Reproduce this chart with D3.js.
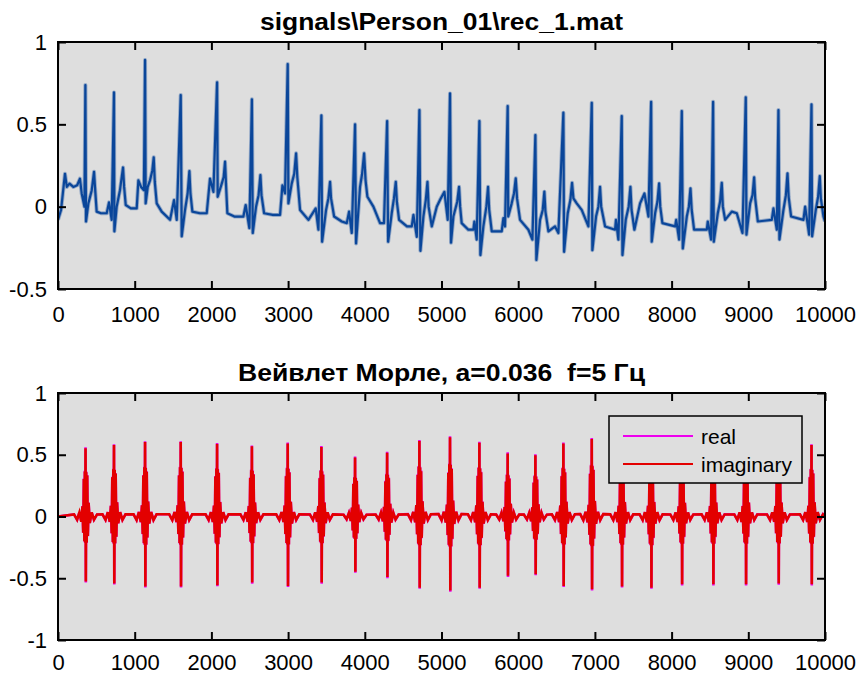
<!DOCTYPE html>
<html>
<head>
<meta charset="utf-8">
<script src="https://cdn.jsdelivr.net/npm/d3@7"></script>
<style>
  body { margin: 0; background: #fff; }
  svg { display: block; font-family: "Liberation Sans", Arial, sans-serif; }
</style>
</head>
<body>
<svg id="chart" width="859" height="675"></svg>
<script>
// ECG signal, vertices: [sample, value]
const ecgPoints = [
  [0,-0.08],[40,-0.02],[91,0.20],[115,0.12],[150,0.14],[200,0.12],[250,0.13],[286,0.17],[309,0.08],[345,0.0],
  [357,0.739],[365,-0.09],[396,0.02],[440,0.10],[470,0.212],[482,0.12],[504,-0.03],[560,-0.04],[635,-0.04],[665,0.026],[700,-0.08],
  [730,0.694],[735,-0.15],[765,0.0],[808,0.10],[848,0.238],[862,0.12],[883,0.01],[950,-0.01],[1026,-0.01],[1048,0.16],[1083,0.12],[1120,0.10],
  [1135,0.891],[1143,0.02],[1170,0.12],[1200,0.16],[1230,0.22],[1248,0.30],[1262,0.15],[1287,0.02],[1352,-0.03],[1461,-0.08],[1513,0.04],[1548,-0.08],
  [1600,0.678],[1613,-0.18],[1656,-0.02],[1690,0.08],[1713,0.216],[1727,0.08],[1752,-0.03],[1850,-0.04],[1939,-0.04],[1982,0.17],[2026,0.09],
  [2074,0.755],[2082,0.06],[2135,0.14],[2160,0.18],[2178,0.273],[2192,0.12],[2208,-0.04],[2300,-0.06],[2417,-0.06],[2447,0.01],[2495,-0.13],
  [2528,0.652],[2539,-0.16],[2582,0.0],[2615,0.07],[2639,0.192],[2653,0.07],[2687,-0.04],[2800,-0.05],[2895,-0.05],[2926,0.13],[2960,0.08],
  [2995,0.866],[3004,0.02],[3047,0.14],[3080,0.20],[3104,0.324],[3120,0.18],[3156,-0.02],[3265,-0.08],[3360,-0.01],[3395,-0.14],
  [3434,0.554],[3443,-0.213],[3495,-0.02],[3525,0.05],[3547,0.151],[3560,0.05],[3600,-0.06],[3700,-0.09],[3765,-0.10],[3795,-0.03],[3830,-0.16],
  [3873,0.50],[3886,-0.223],[3938,0.12],[3965,0.20],[3991,0.324],[4010,0.16],[4034,0.06],[4112,0.0],[4199,-0.10],[4250,-0.10],
  [4291,0.52],[4304,-0.213],[4351,-0.04],[4380,0.05],[4404,0.151],[4418,0.03],[4447,-0.08],[4550,-0.12],[4612,-0.12],[4634,-0.05],[4678,-0.183],
  [4712,0.587],[4725,-0.268],[4764,-0.06],[4795,0.04],[4817,0.151],[4832,0.0],[4873,-0.12],[4938,0.0],[4990,0.05],[5038,0.09],[5081,-0.08],
  [5111,0.688],[5124,-0.219],[5155,-0.06],[5205,0.03],[5229,0.121],[5243,0.0],[5263,-0.10],[5350,-0.14],[5416,-0.14],[5429,-0.09],[5459,-0.20],
  [5494,0.52],[5507,-0.294],[5546,-0.12],[5585,0.0],[5607,0.121],[5622,-0.02],[5655,-0.15],[5785,-0.15],[5807,-0.07],[5828,-0.12],
  [5863,0.611],[5870,-0.06],[5915,0.02],[5945,0.08],[5968,0.172],[5985,0.05],[6024,-0.08],[6133,-0.14],[6185,-0.20],
  [6224,0.435],[6237,-0.324],[6285,-0.08],[6320,-0.02],[6341,0.091],[6355,-0.03],[6394,-0.15],[6480,-0.12],[6524,-0.16],
  [6589,0.571],[6598,-0.274],[6646,-0.04],[6680,0.04],[6702,0.145],[6720,0.05],[6763,0.02],[6828,-0.02],[6915,-0.12],
  [6959,0.631],[6967,-0.264],[7015,-0.06],[7045,0.0],[7067,0.121],[7082,0.0],[7133,-0.12],[7263,-0.14],[7275,-0.08],[7306,-0.20],
  [7350,0.55],[7359,-0.294],[7402,-0.08],[7440,0.0],[7463,0.121],[7478,-0.02],[7515,-0.14],[7589,0.02],[7646,0.08],[7698,-0.06],
  [7733,0.637],[7741,-0.213],[7785,-0.04],[7815,0.03],[7837,0.141],[7852,0.0],[7880,-0.10],[8046,-0.12],[8060,-0.08],[8098,-0.20],
  [8133,0.581],[8146,-0.254],[8198,-0.06],[8225,0.0],[8246,0.111],[8262,-0.02],[8293,-0.14],[8459,-0.14],[8472,-0.09],[8515,-0.20],
  [8541,0.637],[8550,-0.213],[8602,-0.04],[8632,0.03],[8654,0.145],[8668,0.0],[8698,-0.08],[8785,-0.03],[8850,-0.04],[8924,-0.16],
  [8967,0.664],[8976,-0.17],[9024,0.02],[9055,0.07],[9076,0.178],[9090,0.05],[9124,-0.09],[9306,-0.08],[9328,-0.01],[9372,-0.14],
  [9393,0.587],[9406,-0.20],[9458,-0.02],[9490,0.07],[9511,0.202],[9526,0.06],[9558,-0.06],[9719,-0.08],[9741,0.0],[9793,-0.17],
  [9824,0.621],[9832,-0.18],[9880,-0.02],[9910,0.06],[9932,0.186],[9946,0.05],[9980,-0.06],[10000,-0.09]
];

// wavelet bursts: centre sample and extremes of each burst
const burstX   = [359, 730, 1135, 1600, 2074, 2528, 2995, 3434, 3873, 4291, 4712, 5111,
                  5494, 5863, 6224, 6589, 6959, 7350, 7733, 8133, 8541, 8967, 9393, 9824];
const imagTop  = [0.552, 0.579, 0.603, 0.603, 0.587, 0.568, 0.592, 0.562, 0.478, 0.516, 0.611, 0.641,
                  0.597, 0.51, 0.495, 0.592, 0.627, 0.58, 0.58, 0.55, 0.56, 0.56, 0.56, 0.579];
const imagBot  = [-0.527, -0.543, -0.567, -0.567, -0.556, -0.535, -0.562, -0.535, -0.448, -0.489, -0.576, -0.60,
                  -0.576, -0.48, -0.467, -0.562, -0.59, -0.567, -0.576, -0.548, -0.548, -0.548, -0.543, -0.548];
const realTop  = [0.56, 0.585, 0.61, 0.61, 0.595, 0.575, 0.6, 0.57, 0.485, 0.525, 0.62, 0.65,
                  0.605, 0.52, 0.505, 0.6, 0.635, 0.59, 0.59, 0.56, 0.57, 0.57, 0.57, 0.585];
const realBot  = [-0.535, -0.55, -0.575, -0.575, -0.565, -0.545, -0.57, -0.545, -0.455, -0.5, -0.585, -0.61,
                  -0.585, -0.49, -0.475, -0.57, -0.6, -0.575, -0.585, -0.558, -0.558, -0.558, -0.552, -0.558];
// shape of one burst read from a close-up: offset in samples, share of the extreme
const burstDx = [-150, -110, -80, -55, -40, -30, -22, -15, -9, -4, 0, 4, 9, 15, 22, 30, 40, 55, 80, 110, 150];
const burstF  = [0.03, -0.05, 0.06, -0.08, 0.15, -0.25, 0.55, -0.38, 0.66, -0.4, 1.0, -1.0, 0.65, -0.4, 0.6, -0.3, 0.2, -0.1, 0.06, -0.05, 0.03];

const xTicks = [0, 1000, 2000, 3000, 4000, 5000, 6000, 7000, 8000, 9000, 10000];
const yTicksTop = [-0.5, 0, 0.5, 1];
const yTicksBottom = [-1, -0.5, 0, 0.5, 1];
const titleTop = "signals\\Person_01\\rec_1.mat";
const titleBottom = "Вейвлет Морле, a=0.036  f=5 Гц";
const legendLabels = ["real", "imaginary"];
const legendColors = ["#ee00ee", "#e30000"];

const svg = d3.select('#chart');
const left = 58, right = 825;

function burstSeries(tops, bots) {
    let pts = [[0, 0]];
    burstX.forEach(function(c, i) {
        burstDx.forEach(function(dx, j) {
            let f = burstF[j];
            pts.push([c + dx, f > 0 ? f * tops[i] : f * Math.abs(bots[i])]);
        });
    });
    pts.push([10000, 0]);
    return pts;
}

function panel(y0, y1, yDomain, yTicks, title, titleLen, titleY, id, xPad) {
    let x = d3.scaleLinear().domain([0, 10000]).range([left, right]);
    let y = d3.scaleLinear().domain(yDomain).range([y1, y0]);
    let g = svg.append('g');

    g.append('rect')
        .attr('x', left).attr('y', y0)
        .attr('width', right - left).attr('height', y1 - y0)
        .attr('fill', '#dedede');

    svg.append('clipPath').attr('id', id)
        .append('rect')
        .attr('x', left).attr('y', y0)
        .attr('width', right - left).attr('height', y1 - y0);

    let plot = g.append('g').attr('clip-path', 'url(#' + id + ')');

    let fmt = function(d) { return String(d); };

    g.append('g').attr('transform', 'translate(0,' + y1 + ')')
        .call(d3.axisBottom(x).tickValues(xTicks).tickSize(-8).tickPadding(xPad).tickFormat(fmt));
    g.append('g').attr('transform', 'translate(0,' + y0 + ')')
        .call(d3.axisTop(x).tickValues(xTicks).tickSize(-8).tickFormat(''));
    g.append('g').attr('transform', 'translate(' + left + ',0)')
        .call(d3.axisLeft(y).tickValues(yTicks).tickSize(-8).tickPadding(11).tickFormat(fmt));
    g.append('g').attr('transform', 'translate(' + right + ',0)')
        .call(d3.axisRight(y).tickValues(yTicks).tickSize(-8).tickFormat(''));

    g.selectAll('.domain').remove();
    g.selectAll('.tick line').attr('stroke', '#000').attr('stroke-width', 2);
    g.selectAll('.tick text')
        .attr('fill', '#000')
        .style('font-size', '22px')
        .style('font-family', '"Liberation Sans", Arial, sans-serif');

    g.append('rect')
        .attr('x', left).attr('y', y0)
        .attr('width', right - left).attr('height', y1 - y0)
        .attr('fill', 'none')
        .attr('stroke', '#000')
        .attr('stroke-width', 2);

    svg.append('text')
        .attr('x', (left + right) / 2)
        .attr('y', titleY)
        .attr('text-anchor', 'middle')
        .attr('textLength', titleLen)
        .attr('lengthAdjust', 'spacingAndGlyphs')
        .style('font-size', '23px')
        .style('font-weight', 'bold')
        .style('white-space', 'pre')
        .text(title);

    return {x: x, y: y, plot: plot, g: g};
}

// top: ECG record
let p1 = panel(42, 289, [-0.5, 1], yTicksTop, titleTop, 363, 30, 'clip1', 17);
let line1 = d3.line().x(d => p1.x(d[0])).y(d => p1.y(d[1]));
// soft halo under the trace stands in for the sensor noise thickness
p1.plot.append('path')
    .datum(ecgPoints)
    .attr('fill', 'none')
    .attr('stroke', '#0a469a')
    .attr('stroke-opacity', 0.35)
    .attr('stroke-width', 4)
    .attr('stroke-linejoin', 'round')
    .attr('d', line1);
p1.plot.append('path')
    .datum(ecgPoints)
    .attr('fill', 'none')
    .attr('stroke', '#0a469a')
    .attr('stroke-width', 2.2)
    .attr('stroke-linejoin', 'round')
    .attr('d', line1);

// bottom: Morlet wavelet response
let p2 = panel(393, 640, [-1, 1], yTicksBottom, titleBottom, 407, 381, 'clip2', 14);
let line2 = d3.line().x(d => p2.x(d[0])).y(d => p2.y(d[1]));
p2.plot.append('path')
    .datum(burstSeries(realTop, realBot))
    .attr('fill', 'none')
    .attr('stroke', legendColors[0])
    .attr('stroke-width', 2.6)
    .attr('d', line2);
p2.plot.append('path')
    .datum(burstSeries(imagTop, imagBot))
    .attr('fill', 'none')
    .attr('stroke', legendColors[1])
    .attr('stroke-width', 2.6)
    .attr('d', line2);

// legend
let lg = svg.append('g');
lg.append('rect')
    .attr('x', 609).attr('y', 416)
    .attr('width', 193).attr('height', 67)
    .attr('fill', '#dedede')
    .attr('stroke', '#000')
    .attr('stroke-width', 1.5);
legendLabels.forEach(function(label, i) {
    let ly = 436 + i * 28;
    lg.append('line')
        .attr('x1', 623).attr('x2', 693)
        .attr('y1', ly).attr('y2', ly)
        .attr('stroke', legendColors[i])
        .attr('stroke-width', 2);
    lg.append('text')
        .attr('x', 701).attr('y', ly + 8)
        .style('font-size', '21px')
        .text(label);
});
</script>
</body>
</html>
